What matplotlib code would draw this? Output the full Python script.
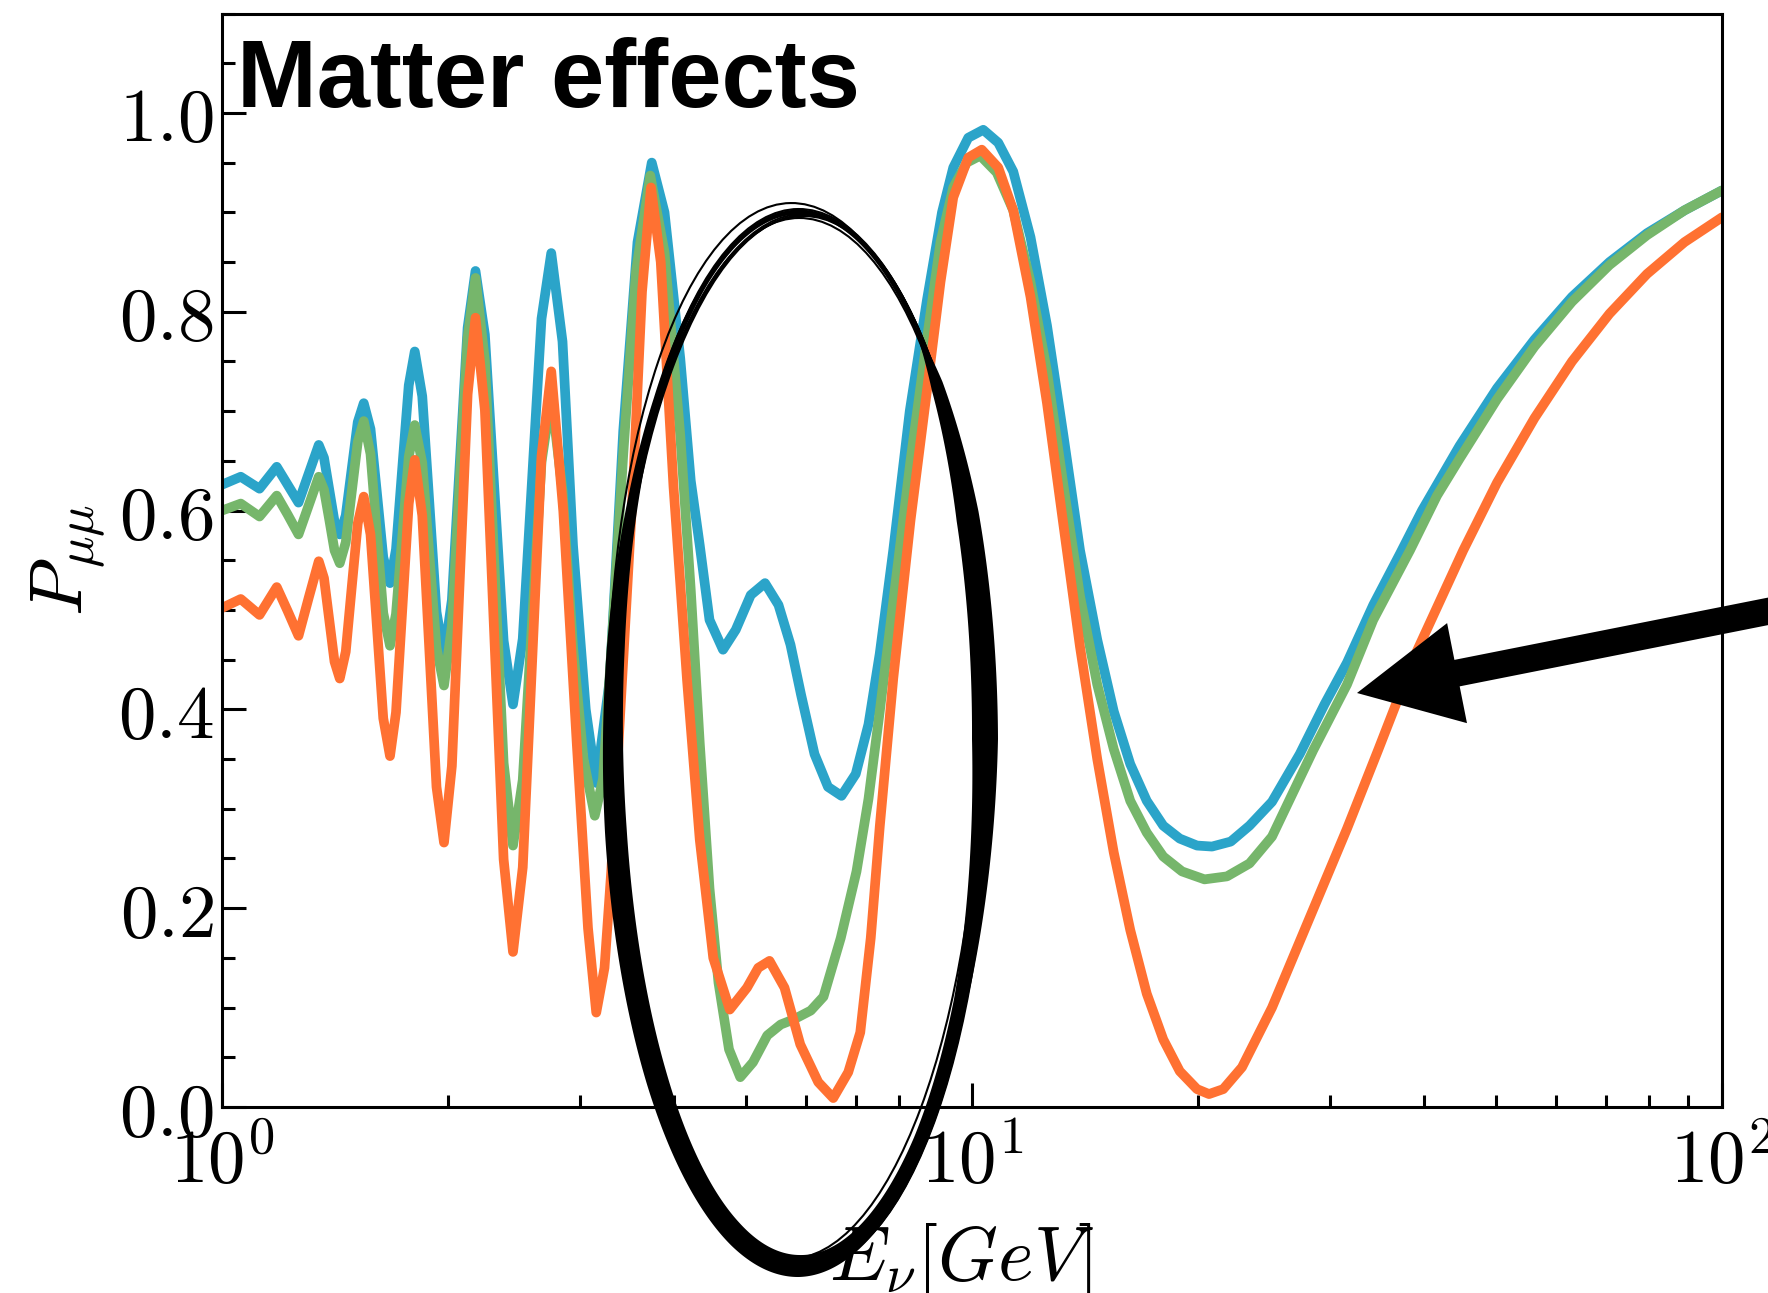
import numpy as np
import matplotlib
matplotlib.use('Agg')
import matplotlib.pyplot as plt
from matplotlib.patches import Ellipse, FancyArrow, PathPatch
from matplotlib.path import Path
from matplotlib.ticker import FuncFormatter, LogLocator, MultipleLocator, NullFormatter

plt.rcParams['mathtext.fontset'] = 'cm'

# log10(E / GeV) grid shared by the fast oscillations at low energy
loge_low = [0.000, 0.025, 0.050, 0.073, 0.0875, 0.102, 0.1155, 0.129, 0.136, 0.143,
            0.150, 0.157, 0.165, 0.173, 0.181, 0.189, 0.198, 0.2065, 0.215, 0.224,
            0.232, 0.2405, 0.249, 0.257, 0.267, 0.2765, 0.286, 0.296, 0.3065, 0.317,
            0.3275, 0.338, 0.3505, 0.363, 0.3755, 0.388, 0.401, 0.4135, 0.426]

blue_low = [0.626, 0.634, 0.622, 0.644, 0.626, 0.608, 0.637, 0.666, 0.653, 0.621,
            0.589, 0.576, 0.595, 0.642, 0.689, 0.708, 0.682, 0.618, 0.553, 0.527,
            0.561, 0.644, 0.726, 0.760, 0.715, 0.607, 0.498, 0.453, 0.510, 0.647,
            0.784, 0.841, 0.777, 0.623, 0.469, 0.405, 0.471, 0.632, 0.793]
green_low = [0.600, 0.607, 0.594, 0.615, 0.596, 0.576, 0.605, 0.634, 0.621, 0.591,
             0.560, 0.547, 0.568, 0.619, 0.669, 0.690, 0.657, 0.577, 0.497, 0.464,
             0.496, 0.575, 0.654, 0.686, 0.648, 0.555, 0.462, 0.424, 0.484, 0.629,
             0.774, 0.834, 0.751, 0.549, 0.346, 0.263, 0.329, 0.489, 0.649]
orange_low = [0.502, 0.511, 0.495, 0.523, 0.499, 0.474, 0.512, 0.549, 0.532, 0.490,
              0.448, 0.431, 0.458, 0.523, 0.587, 0.614, 0.576, 0.484, 0.391, 0.353,
              0.397, 0.502, 0.607, 0.651, 0.595, 0.459, 0.322, 0.266, 0.343, 0.530,
              0.717, 0.794, 0.701, 0.475, 0.249, 0.156, 0.241, 0.448, 0.655]

# higher energies, each curve on its own grid
loge_blue_hi = [0.439, 0.454, 0.468, 0.485, 0.499, 0.517, 0.535, 0.554, 0.573, 0.590,
                0.611, 0.625, 0.637, 0.650, 0.668, 0.685, 0.705, 0.724, 0.742, 0.758,
                0.772, 0.790, 0.808, 0.826, 0.845, 0.862, 0.877, 0.895, 0.917, 0.940,
                0.960, 0.975, 0.995, 1.015, 1.035, 1.055, 1.078, 1.100, 1.122, 1.144,
                1.167, 1.189, 1.211, 1.233, 1.255, 1.277, 1.300, 1.320, 1.345, 1.370,
                1.400, 1.437, 1.470, 1.500, 1.535, 1.571, 1.600, 1.650, 1.700, 1.750,
                1.800, 1.850, 1.900, 1.950, 2.000]
blue_hi = [0.859, 0.770, 0.565, 0.400, 0.326, 0.430, 0.680, 0.870, 0.950, 0.900,
           0.753, 0.630, 0.565, 0.490, 0.460, 0.480, 0.515, 0.527, 0.505, 0.465,
           0.415, 0.355, 0.322, 0.313, 0.335, 0.385, 0.456, 0.560, 0.700, 0.812,
           0.900, 0.945, 0.975, 0.983, 0.970, 0.941, 0.875, 0.786, 0.675, 0.560,
           0.470, 0.398, 0.345, 0.308, 0.283, 0.270, 0.263, 0.262, 0.267, 0.283,
           0.307, 0.355, 0.405, 0.447, 0.505, 0.557, 0.600, 0.665, 0.723, 0.772,
           0.815, 0.850, 0.879, 0.902, 0.922]

loge_green_hi = [0.439, 0.454, 0.468, 0.482, 0.497, 0.508, 0.520, 0.535, 0.552, 0.571,
                 0.590, 0.611, 0.625, 0.637, 0.650, 0.662, 0.676, 0.691, 0.708, 0.727,
                 0.745, 0.762, 0.785, 0.802, 0.825, 0.846, 0.862, 0.877, 0.895, 0.918,
                 0.940, 0.958, 0.975, 0.993, 1.011, 1.033, 1.055, 1.078, 1.100, 1.122,
                 1.144, 1.167, 1.189, 1.211, 1.233, 1.255, 1.280, 1.310, 1.340, 1.370,
                 1.400, 1.455, 1.500, 1.535, 1.584, 1.620, 1.650, 1.700, 1.750, 1.800,
                 1.850, 1.900, 1.950, 2.000]
green_hi = [0.715, 0.620, 0.463, 0.350, 0.293, 0.330, 0.470, 0.657, 0.840, 0.937,
            0.860, 0.676, 0.520, 0.366, 0.220, 0.125, 0.058, 0.030, 0.045, 0.072,
            0.083, 0.088, 0.097, 0.111, 0.170, 0.237, 0.310, 0.398, 0.508, 0.650,
            0.773, 0.870, 0.925, 0.950, 0.957, 0.940, 0.902, 0.830, 0.740, 0.625,
            0.514, 0.425, 0.360, 0.308, 0.276, 0.252, 0.237, 0.229, 0.232, 0.245,
            0.272, 0.359, 0.425, 0.490, 0.560, 0.615, 0.652, 0.712, 0.765, 0.810,
            0.847, 0.877, 0.902, 0.922]

loge_orange_hi = [0.439, 0.455, 0.473, 0.488, 0.499, 0.510, 0.519, 0.535, 0.548, 0.560,
                  0.572, 0.585, 0.602, 0.620, 0.637, 0.655, 0.677, 0.700, 0.715, 0.730,
                  0.750, 0.771, 0.795, 0.815, 0.835, 0.851, 0.865, 0.877, 0.895, 0.918,
                  0.940, 0.958, 0.975, 0.995, 1.013, 1.035, 1.055, 1.078, 1.100, 1.122,
                  1.144, 1.167, 1.189, 1.211, 1.233, 1.255, 1.277, 1.300, 1.316, 1.335,
                  1.360, 1.400, 1.450, 1.500, 1.542, 1.591, 1.655, 1.700, 1.750, 1.800,
                  1.850, 1.900, 1.950, 2.000]
orange_hi = [0.740, 0.600, 0.366, 0.180, 0.095, 0.140, 0.237, 0.450, 0.624, 0.820,
             0.925, 0.850, 0.624, 0.430, 0.269, 0.150, 0.098, 0.120, 0.140, 0.147,
             0.120, 0.063, 0.025, 0.009, 0.035, 0.075, 0.170, 0.282, 0.431, 0.590,
             0.721, 0.830, 0.915, 0.955, 0.963, 0.945, 0.902, 0.815, 0.708, 0.585,
             0.463, 0.350, 0.256, 0.178, 0.114, 0.068, 0.036, 0.018, 0.013, 0.018,
             0.040, 0.100, 0.190, 0.280, 0.360, 0.455, 0.560, 0.628, 0.693, 0.750,
             0.798, 0.838, 0.870, 0.895]

c_blue = '#2ba4c9'
c_green = '#76b66b'
c_orange = '#ff7132'


def curve(lo_p, hi_e, hi_p):
    e = 10 ** np.concatenate([loge_low, hi_e])
    p = np.concatenate([lo_p, hi_p])
    return e, p


fig = plt.figure(figsize=(17.68, 12.93), dpi=100)
ax = fig.add_axes([222 / 1768, 186 / 1293, 1500 / 1768, 1093.5 / 1293])

for lo, he, hp, col in [(blue_low, loge_blue_hi, blue_hi, c_blue),
                        (green_low, loge_green_hi, green_hi, c_green),
                        (orange_low, loge_orange_hi, orange_hi, c_orange)]:
    e, p = curve(lo, he, hp)
    ax.plot(e, p, color=col, lw=7, solid_joinstyle='round', solid_capstyle='round')

ax.set_xscale('log')
ax.set_xlim(1, 100)
ax.set_ylim(0, 1.1)

ax.xaxis.set_major_locator(LogLocator(base=10, numticks=5))
ax.xaxis.set_minor_locator(LogLocator(base=10, subs=np.arange(2, 10), numticks=20))
ax.xaxis.set_major_formatter(FuncFormatter(lambda v, pos: r'$10^{%d}$' % round(np.log10(v))))
ax.xaxis.set_minor_formatter(NullFormatter())
ax.yaxis.set_major_locator(MultipleLocator(0.2))
ax.yaxis.set_minor_locator(MultipleLocator(0.05))
ax.yaxis.set_major_formatter(FuncFormatter(lambda v, pos: r'$%.1f$' % v))

ax.tick_params(which='both', direction='in', top=False, right=False, width=2.2, labelsize=54)
ax.tick_params(which='major', length=17)
ax.tick_params(which='minor', length=9)
ax.tick_params(axis='y', pad=6)
ax.tick_params(axis='x', pad=14)
for s in ax.spines.values():
    s.set_linewidth(2.2)

ax.set_xlabel(r'$E_\nu[GeV]$', fontsize=55, labelpad=20)
ax.xaxis.set_label_coords(0.493, -0.1045)
ax.set_ylabel(r'$P_{\mu\mu}$', fontsize=54, labelpad=8)

ax.text(0.010, 0.9145, 'Matter effects', transform=ax.transAxes, fontsize=69,
        fontweight='bold', family='Liberation Sans', va='baseline', ha='left')

# hand-drawn style ring and arrow on a pixel-space overlay (y up)
ov = fig.add_axes([0, 0, 1, 1], zorder=5)
ov.set_xlim(0, 1768)
ov.set_ylim(0, 1293)
ov.set_axis_off()
ov.patch.set_alpha(0)

cx, cy, ra, rb = 799, 554, 186, 527

# pen stroke thickness around the ring, by angle in degrees
stroke_ang = [0, 25, 42, 50, 60, 90, 120, 140, 155, 170, 190, 220, 250, 270, 290, 310, 330, 345, 360]
stroke_w = [26, 24, 14, 3, 4, 5, 5, 7, 12, 18, 22, 24, 24, 22, 18, 14, 14, 20, 26]

th = np.linspace(0, 360, 721)
t = np.interp(th, stroke_ang, stroke_w)
c, s = np.cos(np.radians(th)), np.sin(np.radians(th))
outer = np.column_stack([cx + (ra + t / 2) * c, cy + (rb + t / 2) * s])
inner = np.column_stack([cx + (ra - t / 2) * c, cy + (rb - t / 2) * s])[::-1]
n = len(th)
verts = np.vstack([outer, outer[:1], inner, inner[:1]])
codes = ([Path.MOVETO] + [Path.LINETO] * (n - 1) + [Path.CLOSEPOLY]) * 2
ov.add_patch(PathPatch(Path(verts, codes), fc='k', ec='none'))

# loose passes of the pen
ring_w = [368, 372, 376, 380, 374, 370]
ring_h = [1044, 1052, 1060, 1066, 1050, 1040]
ring_dx = [-2, 1, 3, -1, 0, 2]
ring_dy = [2, -1, 0, 3, -2, 1]
ring_ang = [-1.0, -0.4, 0.4, 0.8, -0.6, 0.2]
for w, h, dx, dy, a in zip(ring_w, ring_h, ring_dx, ring_dy, ring_ang):
    ov.add_patch(Ellipse((cx + dx, cy + dy), w, h, angle=a, fill=False,
                         ec='k', lw=1.5))

ov.add_patch(FancyArrow(1800, 688, -443, -88, width=27, head_width=102,
                        head_length=102, length_includes_head=True,
                        color='k', lw=0))

fig.savefig('out.png', dpi=100)
